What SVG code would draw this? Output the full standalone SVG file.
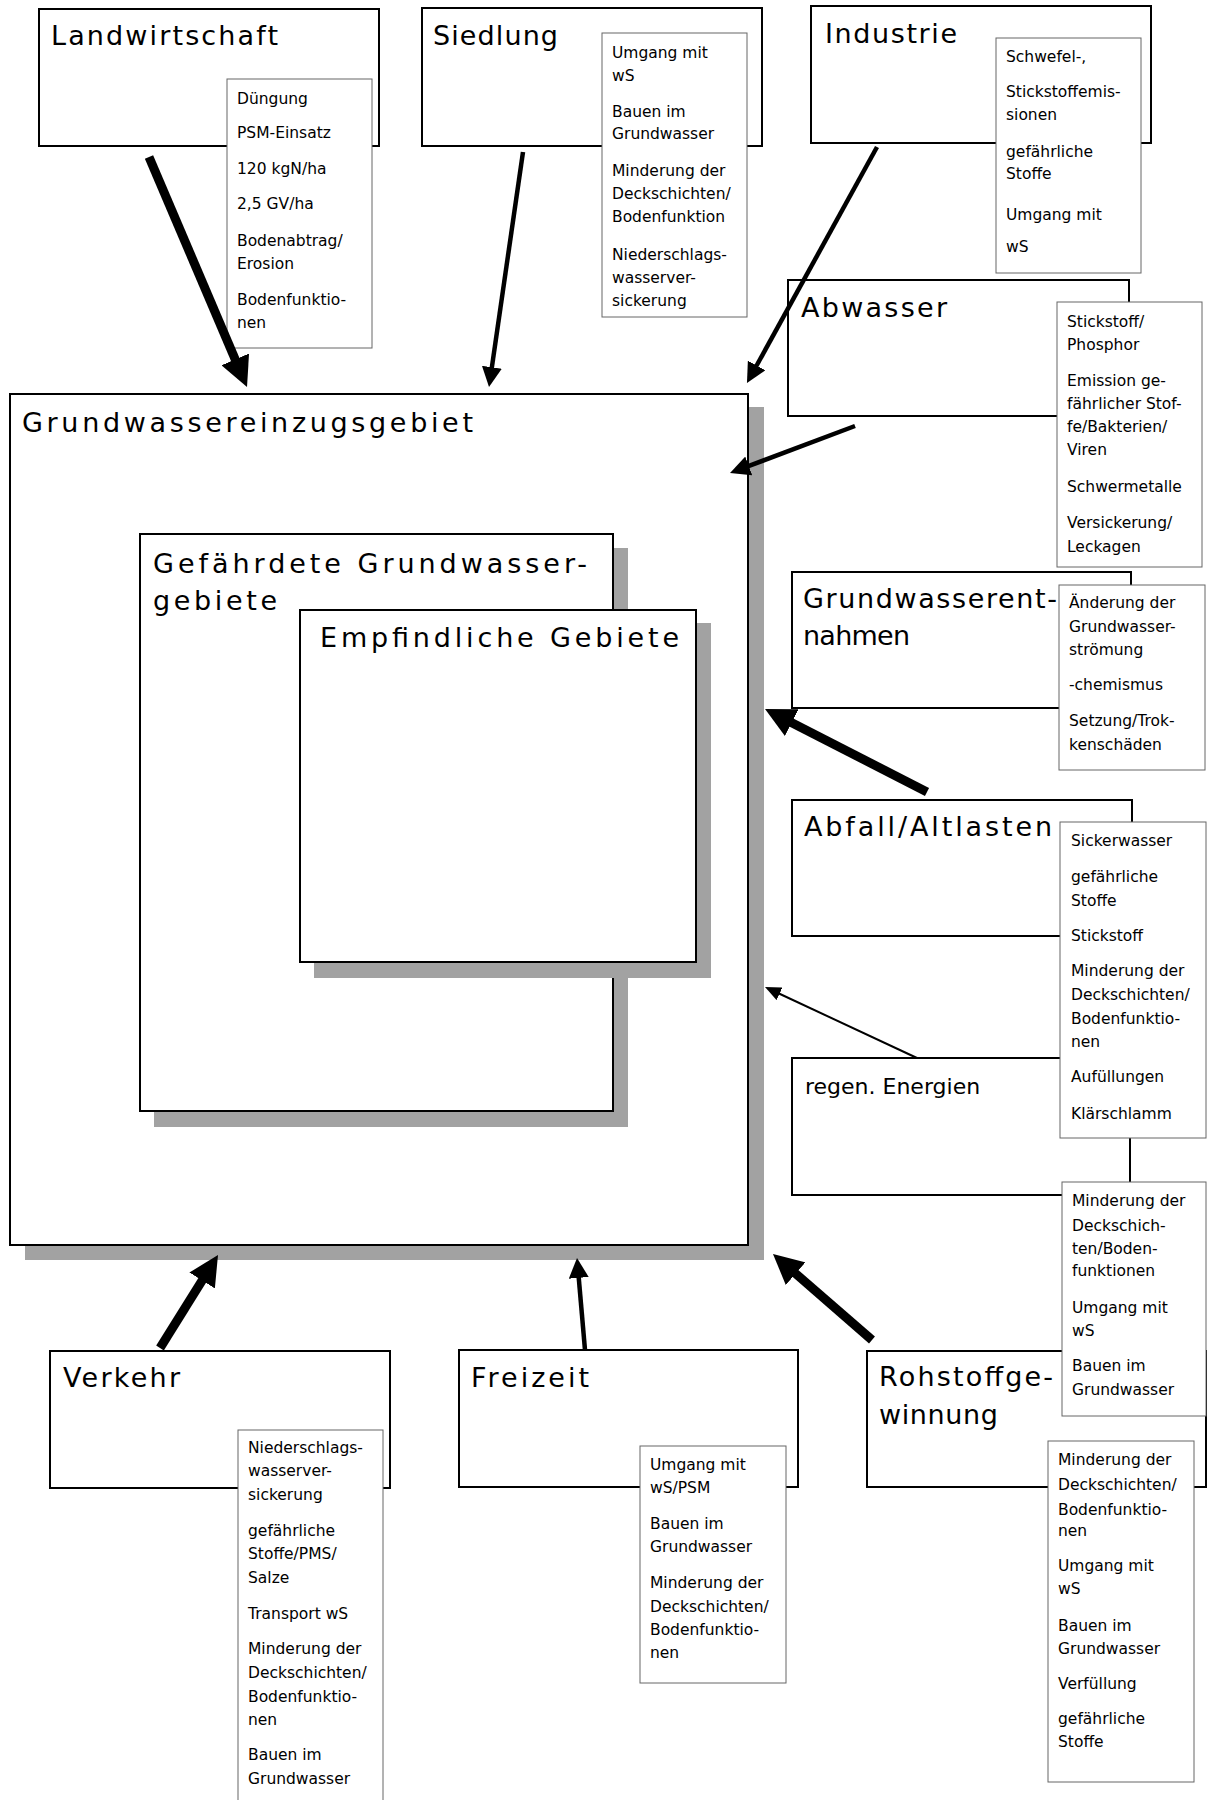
<svg xmlns="http://www.w3.org/2000/svg" width="1207" height="1800" viewBox="0 0 1207 1800">
<style>
.bg{fill:#fff}
.box{fill:#fff;stroke:#000;stroke-width:2}
.shadow{fill:#a2a2a2}
.det{fill:#fff;stroke:#666;stroke-width:1}
.t{font-family:"DejaVu Sans",Verdana,sans-serif;font-size:27px;fill:#000}
.r{font-family:"DejaVu Sans",Verdana,sans-serif;font-size:22px;fill:#000}
.d{font-family:"DejaVu Sans",Verdana,sans-serif;font-size:15.5px;fill:#000}
.a{stroke:#000;fill:none}
.thick{stroke-width:9}
.med{stroke-width:4.5}
.thin{stroke-width:2}
</style>
<defs>
<marker id="hThick" markerUnits="userSpaceOnUse" markerWidth="32" markerHeight="30" refX="6" refY="15" orient="auto" viewBox="0 0 32 30"><path d="M0,0 L30,15 L0,30 z" fill="#000"/></marker>
<marker id="hMed" markerUnits="userSpaceOnUse" markerWidth="22" markerHeight="20" refX="4" refY="10" orient="auto" viewBox="0 0 22 20"><path d="M0,0 L20,10 L0,20 z" fill="#000"/></marker>
<marker id="hThin" markerUnits="userSpaceOnUse" markerWidth="18" markerHeight="14" refX="3" refY="7" orient="auto" viewBox="0 0 18 14"><path d="M0,0 L16,7 L0,14 z" fill="#000"/></marker>
</defs>
<rect class="bg" x="0" y="0" width="1207" height="1800"/>

<g id="grundwassereinzugsgebiet">
<rect class="shadow" x="25" y="407" width="739" height="853"/>
<rect class="box" x="10" y="394" width="738" height="851"/>
<text class="t" x="22" y="432" textLength="451" lengthAdjust="spacing">Grundwassereinzugsgebiet</text>
</g>

<g id="gefaehrdete-grundwassergebiete">
<rect class="shadow" x="154" y="548" width="474" height="579"/>
<rect class="box" x="140" y="534" width="473" height="577"/>
<text class="t" x="153" y="573" textLength="434" lengthAdjust="spacing">Gefährdete Grundwasser-</text>
<text class="t" x="153" y="610" textLength="124" lengthAdjust="spacing">gebiete</text>
</g>

<g id="empfindliche-gebiete">
<rect class="shadow" x="314" y="623" width="397" height="355"/>
<rect class="box" x="300" y="610" width="396" height="352"/>
<text class="t" x="320" y="647" textLength="359" lengthAdjust="spacing">Empfindliche Gebiete</text>
</g>

<g id="landwirtschaft">
<rect class="box" x="39" y="9" width="340" height="137"/>
<text class="t" x="51" y="45" textLength="227" lengthAdjust="spacing">Landwirtschaft</text>
<rect class="det" x="227" y="79" width="145" height="269"/>
<text class="d" x="237" y="104">Düngung</text>
<text class="d" x="237" y="138">PSM-Einsatz</text>
<text class="d" x="237" y="174">120 kgN/ha</text>
<text class="d" x="237" y="209">2,5 GV/ha</text>
<text class="d" x="237" y="246">Bodenabtrag/</text>
<text class="d" x="237" y="269">Erosion</text>
<text class="d" x="237" y="305">Bodenfunktio-</text>
<text class="d" x="237" y="328">nen</text>
</g>

<g id="siedlung">
<rect class="box" x="422" y="8" width="340" height="138"/>
<text class="t" x="433" y="45" textLength="125" lengthAdjust="spacing">Siedlung</text>
<rect class="det" x="602" y="33" width="145" height="284"/>
<text class="d" x="612" y="58">Umgang mit</text>
<text class="d" x="612" y="81">wS</text>
<text class="d" x="612" y="117">Bauen im</text>
<text class="d" x="612" y="139">Grundwasser</text>
<text class="d" x="612" y="176">Minderung der</text>
<text class="d" x="612" y="199">Deckschichten/</text>
<text class="d" x="612" y="222">Bodenfunktion</text>
<text class="d" x="612" y="260">Niederschlags-</text>
<text class="d" x="612" y="283">wasserver-</text>
<text class="d" x="612" y="306">sickerung</text>
</g>

<g id="industrie">
<rect class="box" x="811" y="6" width="340" height="137"/>
<text class="t" x="825" y="43" textLength="132" lengthAdjust="spacing">Industrie</text>
<rect class="det" x="996" y="38" width="145" height="235"/>
<text class="d" x="1006" y="62">Schwefel-,</text>
<text class="d" x="1006" y="97">Stickstoffemis-</text>
<text class="d" x="1006" y="120">sionen</text>
<text class="d" x="1006" y="157">gefährliche</text>
<text class="d" x="1006" y="179">Stoffe</text>
<text class="d" x="1006" y="220">Umgang mit</text>
<text class="d" x="1006" y="252">wS</text>
</g>

<g id="abwasser">
<rect class="box" x="788" y="280" width="341" height="136"/>
<text class="t" x="801" y="317" textLength="146" lengthAdjust="spacing">Abwasser</text>
<rect class="det" x="1057" y="302" width="145" height="265"/>
<text class="d" x="1067" y="327">Stickstoff/</text>
<text class="d" x="1067" y="350">Phosphor</text>
<text class="d" x="1067" y="386">Emission  ge-</text>
<text class="d" x="1067" y="409">fährlicher Stof-</text>
<text class="d" x="1067" y="432">fe/Bakterien/</text>
<text class="d" x="1067" y="455">Viren</text>
<text class="d" x="1067" y="492">Schwermetalle</text>
<text class="d" x="1067" y="528">Versickerung/</text>
<text class="d" x="1067" y="552">Leckagen</text>
</g>

<g id="grundwasserentnahmen">
<rect class="box" x="792" y="572" width="339" height="136"/>
<text class="t" x="803" y="608" textLength="254" lengthAdjust="spacing">Grundwasserent-</text>
<text class="t" x="803" y="645" textLength="107" lengthAdjust="spacing">nahmen</text>
<rect class="det" x="1059" y="585" width="146" height="185"/>
<text class="d" x="1069" y="608">Änderung der</text>
<text class="d" x="1069" y="632">Grundwasser-</text>
<text class="d" x="1069" y="655">strömung</text>
<text class="d" x="1069" y="690">-chemismus</text>
<text class="d" x="1069" y="726">Setzung/Trok-</text>
<text class="d" x="1069" y="750">kenschäden</text>
</g>

<g id="regen-energien">
<rect class="box" x="792" y="1058" width="338" height="137"/>
<text class="r" x="805" y="1094">regen. Energien</text>
</g>

<g id="abfall-altlasten">
<rect class="box" x="792" y="800" width="340" height="136"/>
<text class="t" x="804" y="836" textLength="248" lengthAdjust="spacing">Abfall/Altlasten</text>
<rect class="det" x="1060" y="822" width="146" height="316"/>
<text class="d" x="1071" y="846">Sickerwasser</text>
<text class="d" x="1071" y="882">gefährliche</text>
<text class="d" x="1071" y="906">Stoffe</text>
<text class="d" x="1071" y="941">Stickstoff</text>
<text class="d" x="1071" y="976">Minderung der</text>
<text class="d" x="1071" y="1000">Deckschichten/</text>
<text class="d" x="1071" y="1024">Bodenfunktio-</text>
<text class="d" x="1071" y="1047">nen</text>
<text class="d" x="1071" y="1082">Aufüllungen</text>
<text class="d" x="1071" y="1119">Klärschlamm</text>
</g>

<g id="rohstoffgewinnung">
<rect class="box" x="867" y="1351" width="339" height="136"/>
<text class="t" x="879" y="1386" textLength="174" lengthAdjust="spacing">Rohstoffge-</text>
<text class="t" x="879" y="1424" textLength="119" lengthAdjust="spacing">winnung</text>
<rect class="det" x="1062" y="1182" width="144" height="234"/>
<text class="d" x="1072" y="1206">Minderung der</text>
<text class="d" x="1072" y="1231">Deckschich-</text>
<text class="d" x="1072" y="1254">ten/Boden-</text>
<text class="d" x="1072" y="1276">funktionen</text>
<text class="d" x="1072" y="1313">Umgang mit</text>
<text class="d" x="1072" y="1336">wS</text>
<text class="d" x="1072" y="1371">Bauen im</text>
<text class="d" x="1072" y="1395">Grundwasser</text>
<rect class="det" x="1048" y="1441" width="146" height="341"/>
<text class="d" x="1058" y="1465">Minderung der</text>
<text class="d" x="1058" y="1490">Deckschichten/</text>
<text class="d" x="1058" y="1515">Bodenfunktio-</text>
<text class="d" x="1058" y="1536">nen</text>
<text class="d" x="1058" y="1571">Umgang mit</text>
<text class="d" x="1058" y="1594">wS</text>
<text class="d" x="1058" y="1631">Bauen im</text>
<text class="d" x="1058" y="1654">Grundwasser</text>
<text class="d" x="1058" y="1689">Verfüllung</text>
<text class="d" x="1058" y="1724">gefährliche</text>
<text class="d" x="1058" y="1747">Stoffe</text>
</g>

<g id="verkehr">
<rect class="box" x="50" y="1351" width="340" height="137"/>
<text class="t" x="63" y="1387" textLength="117" lengthAdjust="spacing">Verkehr</text>
<rect class="det" x="238" y="1430" width="145" height="375"/>
<text class="d" x="248" y="1453">Niederschlags-</text>
<text class="d" x="248" y="1476">wasserver-</text>
<text class="d" x="248" y="1500">sickerung</text>
<text class="d" x="248" y="1536">gefährliche</text>
<text class="d" x="248" y="1559">Stoffe/PMS/</text>
<text class="d" x="248" y="1583">Salze</text>
<text class="d" x="248" y="1619">Transport wS</text>
<text class="d" x="248" y="1654">Minderung der</text>
<text class="d" x="248" y="1678">Deckschichten/</text>
<text class="d" x="248" y="1702">Bodenfunktio-</text>
<text class="d" x="248" y="1725">nen</text>
<text class="d" x="248" y="1760">Bauen im</text>
<text class="d" x="248" y="1784">Grundwasser</text>
</g>

<g id="freizeit">
<rect class="box" x="459" y="1350" width="339" height="137"/>
<text class="t" x="471" y="1387" textLength="118" lengthAdjust="spacing">Freizeit</text>
<rect class="det" x="640" y="1446" width="146" height="237"/>
<text class="d" x="650" y="1470">Umgang mit</text>
<text class="d" x="650" y="1493">wS/PSM</text>
<text class="d" x="650" y="1529">Bauen im</text>
<text class="d" x="650" y="1552">Grundwasser</text>
<text class="d" x="650" y="1588">Minderung der</text>
<text class="d" x="650" y="1612">Deckschichten/</text>
<text class="d" x="650" y="1635">Bodenfunktio-</text>
<text class="d" x="650" y="1658">nen</text>
</g>

<g id="connectors">
<line class="a thick" x1="149" y1="157" x2="237.6" y2="364.9" marker-end="url(#hThick)"/>
<line class="a med" x1="523" y1="152" x2="491.3" y2="371.2" marker-end="url(#hMed)"/>
<line class="a med" x1="877" y1="147" x2="754.7" y2="369" marker-end="url(#hMed)"/>
<line class="a med" x1="855" y1="426" x2="745" y2="467.4" marker-end="url(#hMed)"/>
<line class="a thick" x1="927" y1="792" x2="786.4" y2="719.9" marker-end="url(#hThick)"/>
<line class="a thin" x1="917" y1="1058" x2="776.8" y2="992.5" marker-end="url(#hThin)"/>
<line class="a thick" x1="160" y1="1348" x2="205.3" y2="1275.4" marker-end="url(#hThick)"/>
<line class="a med" x1="585" y1="1350" x2="578.4" y2="1273.9" marker-end="url(#hMed)"/>
<line class="a thick" x1="872" y1="1340" x2="791.1" y2="1269.7" marker-end="url(#hThick)"/>
</g>
</svg>
